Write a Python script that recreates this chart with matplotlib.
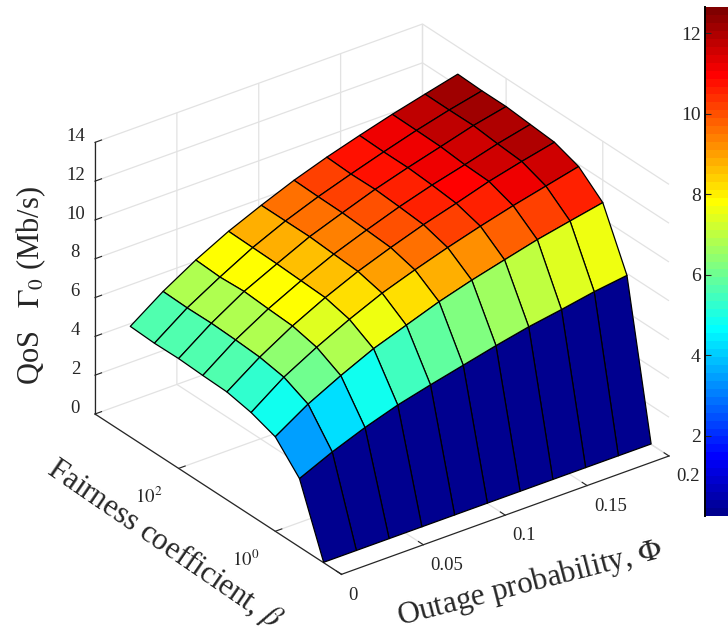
import numpy as np
import matplotlib
matplotlib.use('Agg')
import matplotlib.pyplot as plt
from matplotlib.cm import ScalarMappable
from matplotlib.colors import Normalize, ListedColormap
from mpl_toolkits.mplot3d import proj3d

plt.rcParams['font.family'] = ['Liberation Serif', 'DejaVu Serif']
plt.rcParams['mathtext.fontset'] = 'stix'

# ---- data ----
phi = [0, 0.02, 0.04, 0.06, 0.08, 0.10, 0.12, 0.14, 0.16, 0.18, 0.20]
log_beta = [-1, -0.5, 0, 0.5, 1, 1.5, 2, 2.5, 3]
qos_row0 = [0.02] * 11
qos_row1 = [3.53, 4.29, 4.94, 5.49, 5.92, 6.32, 6.72, 7.08, 7.36, 7.67, 7.90]
qos_row2 = [4.87, 5.94, 6.80, 7.58, 8.18, 8.78, 9.28, 9.72, 10.15, 10.50, 10.84]
qos_row3 = [5.31, 6.52, 7.45, 8.28, 9.02, 9.61, 10.15, 10.64, 11.09, 11.49, 11.89]
qos_row4 = [5.56, 6.74, 7.74, 8.59, 9.33, 9.95, 10.52, 11.01, 11.53, 11.95, 12.33]
qos_row5 = [5.60, 6.82, 7.81, 8.65, 9.41, 10.04, 10.63, 11.14, 11.58, 12.05, 12.44]
qos_row6 = [5.66, 6.87, 7.90, 8.71, 9.50, 10.12, 10.72, 11.23, 11.70, 12.18, 12.55]
qos_row7 = [5.64, 6.85, 7.83, 8.74, 9.50, 10.14, 10.70, 11.23, 11.73, 12.17, 12.55]
qos_row8 = [5.70, 6.89, 7.90, 8.77, 9.50, 10.18, 10.76, 11.27, 11.75, 12.18, 12.60]
phi_ticks = [0, 0.05, 0.1, 0.15, 0.2]
phi_labels = ['0', '0.05', '0.1', '0.15', '0.2']
beta_ticks = [0, 2]
beta_labels = [r'$10^{0}$', r'$10^{2}$']
z_ticks = [0, 2, 4, 6, 8, 10, 12, 14]
cbar_ticks = [2, 4, 6, 8, 10, 12]

W, H = 728, 636
fig = plt.figure(figsize=(W / 100, H / 100), dpi=100)
ax = fig.add_axes([0.05, 0.05, 0.8, 0.8 * W / H], projection='3d', proj_type='ortho')
ax.view_init(elev=29, azim=-126.7)
ax.set_box_aspect((406, 410, 308.7))
ax.patch.set_alpha(0)

Z = np.array([qos_row0, qos_row1, qos_row2, qos_row3, qos_row4,
              qos_row5, qos_row6, qos_row7, qos_row8])
X, Y = np.meshgrid(phi, log_beta)
# MATLAB-style jet with 64 levels
t = (np.arange(64) + 1) / 64
cmap = ListedColormap(np.clip(np.column_stack([np.minimum(4 * t - 1.5, -4 * t + 4.5),
                                               np.minimum(4 * t - 0.5, -4 * t + 3.5),
                                               np.minimum(4 * t + 0.5, -4 * t + 2.5)]), 0, 1))
norm = Normalize(0.0, 12.65)
ax.plot_surface(X, Y, Z, facecolors=cmap(norm(Z)), rstride=1, cstride=1,
                shade=False, edgecolor='black', linewidth=0.9, antialiased=True)

ax.set_xlim(0, 0.2)
ax.set_ylim(-1.37, 3.73)
ax.set_zlim(0, 14)
ax.set_xticks(phi_ticks)
ax.set_xticklabels(phi_labels)
ax.set_yticks(beta_ticks)
ax.set_yticklabels(beta_labels)
ax.set_zticks(z_ticks)
ax.tick_params(labelsize=13.5, colors='#262626')
ax.zaxis.set_ticks_position('upper')

for axis in (ax.xaxis, ax.yaxis, ax.zaxis):
    axis.set_pane_color((1, 1, 1, 0))
    axis.pane.set_edgecolor((1, 1, 1, 0))
    axis.line.set_color('#262626')
    axis.line.set_linewidth(0.9)
    axis._axinfo['grid'].update(color='#e2e2e2', linewidth=0.9)
    axis._axinfo['tick'].update(inward_factor=0.0, outward_factor=0.25, linewidth={True: 0.8, False: 0.5}, color='#262626')
ax.tick_params(axis='x', pad=-1.2)
ax.tick_params(axis='y', pad=3.5)
ax.tick_params(axis='z', pad=0.2)
for lab in ax.xaxis.get_ticklabels():
    lab.set_ha('left')
for lab in ax.yaxis.get_ticklabels():
    lab.set_ha('right')
for lab in ax.zaxis.get_ticklabels():
    lab.set_va('baseline')
# rear vertical edge of the box
ax.plot([0.2, 0.2], [3.73, 3.73], [0, 14], color='#e2e2e2', lw=0.9, zorder=0)

# fit the axes so that floor corners fall where the reference has them
def corner_px(px, py, pz):
    ax.M = ax.get_proj()
    x2, y2, _ = proj3d.proj_transform(px, py, pz, ax.M)
    dx, dy = ax.transData.transform((x2, y2))
    return dx, H - dy

for _ in range(3):
    fig.canvas.draw()
    lx, ly = corner_px(0, 3.73, 0)
    rx, ry = corner_px(0.2, -1.37, 0)
    p = ax.get_position()
    scale = 574 / (rx - lx)
    w, h = p.width * scale, p.height * scale
    ax.set_position([p.x0, p.y0, w, h])
    fig.canvas.draw()
    lx, ly = corner_px(0, 3.73, 0)
    p = ax.get_position()
    ax.set_position([p.x0 + (95 - lx) / W, p.y0 - (414 - ly) / H, p.width, p.height])

# axis titles
def label(px, py, txt, rot, size):
    fig.text(px / W, 1 - py / H, txt, rotation=rot, rotation_mode='anchor',
             ha='center', va='center', fontsize=size, color='#262626')

label(31, 286, r'QoS   $\Gamma_0$ (Mb/s)', 90, 22)
label(165, 544, r'Fairness coefficient, $\beta$', -34.5, 22.3)
label(530, 583, r'Outage probability, $\Phi$', 14.5, 22.3)

# colour bar
cax = fig.add_axes([705 / W, 1 - 516 / H, 23 / W, 509 / H])
cb = fig.colorbar(ScalarMappable(norm=norm, cmap=cmap), cax=cax)
cb.set_ticks(cbar_ticks)
cax.yaxis.set_ticks_position('left')
cax.tick_params(axis='y', direction='in', length=4, width=0.8, labelsize=14,
                colors='#262626', pad=3)
cb.outline.set_visible(False)
cax.spines['left'].set_visible(True)
cax.spines['left'].set_linewidth(1.4)
cax.spines['left'].set_color('black')

fig.savefig('out.png', dpi=100)
